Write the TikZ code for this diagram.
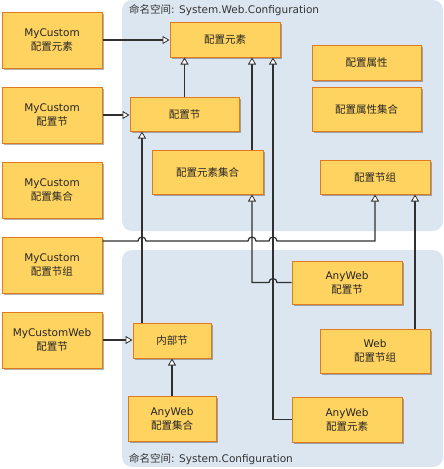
\documentclass[tikz,border=0pt]{standalone}
\usepackage{fontspec}
\setmainfont{DejaVu Sans}
\newfontfamily\cjk{Noto Sans CJK SC}
\usetikzlibrary{positioning,calc,arrows.meta,shadows}

\definecolor{boxfill}{HTML}{FFD35F}
\definecolor{boxline}{HTML}{DF7A1F}
\definecolor{nsblue}{HTML}{DCE6F0}
\definecolor{wire}{HTML}{303030}

\begin{document}
\begin{tikzpicture}[x=1pt,y=-1pt,font=\fontsize{10.5}{14}\selectfont]
        \tikzstyle{box}=[draw=boxline,fill=boxfill,line width=1pt,rectangle,align=center,text=black!85,
            drop shadow={shadow xshift=1.5pt,shadow yshift=-1.5pt,fill=black,opacity=.3}]
        \tikzstyle{custom}=[box,minimum width=100pt,minimum height=56pt]
        \tikzstyle{inherit}=[draw=wire,line width=1.2pt,-{Triangle[length=7pt,width=8pt,fill=white,line width=.8pt]}]
        \tikzstyle{nslabel}=[anchor=west,inner sep=0pt,text=black!80]

        \useasboundingbox (0,0) rectangle (444,469);

        % namespaces
        \fill[nsblue,rounded corners=10pt] (122,0) rectangle (443,231);
        \fill[nsblue,rounded corners=10pt] (122,250) rectangle (443,467);
        \node[nslabel] (webns) at (129,10) {{\cjk 命名空间}: System.Web.Configuration};
        \node[nslabel] (cfgns) at (129,459) {{\cjk 命名空间}: System.Configuration};

        % custom classes
        \node[custom] (mcelem) at (52,40) {MyCustom\\{\cjk 配置元素}};
        \node[custom] (mcsect) [below=18pt of mcelem] {MyCustom\\{\cjk 配置节}};
        \node[custom] (mccoll) [below=18pt of mcsect] {MyCustom\\{\cjk 配置集合}};
        \node[custom] (mcgroup) [below=18pt of mccoll] {MyCustom\\{\cjk 配置节组}};
        \node[custom] (mcweb) [below=18pt of mcgroup] {MyCustomWeb\\{\cjk 配置节}};

        % System.Web.Configuration
        \node[box,minimum width=110pt,minimum height=35pt] (elem) at (225,39.5) {\cjk 配置元素};
        \node[box,minimum width=109pt,minimum height=34pt] (sect) at (184.5,114) {\cjk 配置节};
        \node[box,minimum width=111pt,minimum height=44pt] (elemcoll) at (207.5,172) {\cjk 配置元素集合};
        \node[box,minimum width=109pt,minimum height=35pt] (prop) at (366.5,62.5) {\cjk 配置属性};
        \node[box,minimum width=109pt,minimum height=44pt] (propcoll) at (366.5,109) {\cjk 配置属性集合};
        \node[box,minimum width=110pt,minimum height=34pt] (group) at (375,177) {\cjk 配置节组};

        % System.Configuration
        \node[box,minimum width=78pt,minimum height=35pt] (internal) at (172,340.5) {\cjk 内部节};
        \node[box,minimum width=88pt,minimum height=45pt] (anycoll) at (172,418.5) {AnyWeb\\{\cjk 配置集合}};
        \node[box,minimum width=110pt,minimum height=43pt] (anysect) at (347,282.5) {AnyWeb\\{\cjk 配置节}};
        \node[box,minimum width=110pt,minimum height=44pt] (webgroup) at (375,351) {Web\\{\cjk 配置节组}};
        \node[box,minimum width=110pt,minimum height=45pt] (anyelem) at (347,419.5) {AnyWeb\\{\cjk 配置元素}};

        \coordinate (xint) at (142,0);
        \coordinate (xcoll) at (252,0);
        \coordinate (xelem) at (273,0);
        \coordinate (xgroup) at (375,0);
        \coordinate (xweb) at (415,0);
        \coordinate (ybus) at (0,241);

        \draw[inherit] (mcelem.east) -- (mcelem.east -| elem.west);
        \draw[inherit] (mcsect.east) -- (mcsect.east -| sect.west);
        \draw[inherit] (mcweb.east) -- (mcweb.east -| internal.west);
        \draw[inherit] (sect.north) -- (sect.north |- elem.south);
        \draw[inherit] (xcoll |- elemcoll.north) -- (xcoll |- elem.south);
        \draw[inherit] (xint |- internal.north) -- (xint |- sect.south);
        \draw[inherit] (anycoll.north) -- (internal.south);
        \draw[inherit] (xweb |- webgroup.north) -- (xweb |- group.south);
        \draw[inherit] (anyelem.west) -- (xelem |- anyelem.west) -- (xelem |- elem.south);
        \draw[inherit] (anysect.west) -- ([xshift=4pt]xelem |- anysect.west) arc(0:180:4pt)
            -- (xcoll |- anysect.west) -- (xcoll |- elemcoll.south);
        \draw[inherit] (mcgroup.east |- ybus) -- ([xshift=-4pt]xint |- ybus) arc(180:0:4pt)
            -- ([xshift=-4pt]xcoll |- ybus) arc(180:0:4pt)
            -- ([xshift=-4pt]xelem |- ybus) arc(180:0:4pt)
            -- (xgroup |- ybus) -- (xgroup |- group.south);
    \end{tikzpicture}
\end{document}
